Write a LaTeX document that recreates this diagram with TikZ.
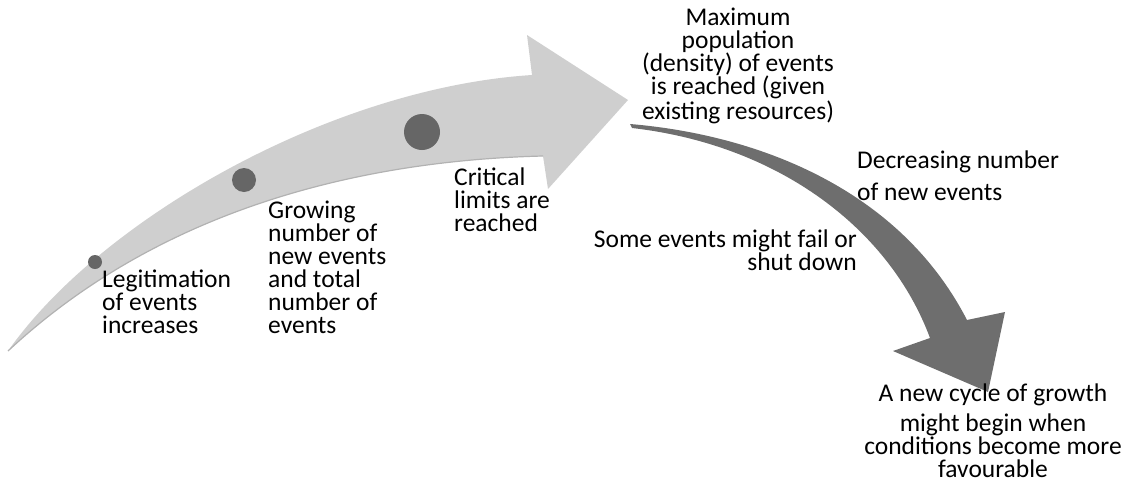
\documentclass[tikz,border=0pt]{standalone}
\usepackage{fontspec}
\setmainfont{Carlito}
\tikzset{
  lbl/.style={inner sep=0pt, font=\fontsize{25.5}{23}\selectfont},
  dotfill/.style={fill=black!60},
}
\begin{document}
\begin{tikzpicture}[x=1pt,y=-1pt]
\useasboundingbox (0,0) rectangle (1132,485);

% rising arrow
\fill[black!19] (8,351) .. controls (100,220) and (330,88) .. (532,75)
  -- (527,35) -- (628,100) -- (548,189) -- (543,156)
  .. controls (380,160) and (170,200) .. (8,351) -- cycle;
\draw[black!30, line width=1.2pt] (543,156) .. controls (380,160) and (170,200) .. (8,351);

\foreach \cx/\cy/\r in {95/262/7, 244/180/12, 422/132/18} {
        \fill[dotfill] (\cx,\cy) circle (\r pt);
 }

% falling arrow
\fill[black!57] (630,124) .. controls (760,135) and (900,190) .. (967,320)
  -- (1005,312) -- (988,392) -- (893,351) -- (930,338)
  .. controls (890,230) and (780,145) .. (632,128) -- cycle;

\node[lbl, anchor=base west, align=left] (legit) at (102,333) {Legitimation\\of events\\increases};
\node[lbl, anchor=base west, align=left] (growing) at (268,333) {Growing\\number of\\new events\\and total\\number of\\events};
\node[lbl, anchor=base west, align=left] (critical) at (454,231) {Critical\\limits are\\reached};
\node[lbl, anchor=base, align=center] (maxpop) at (738,119) {Maximum\\population\\(density) of events\\is reached (given\\existing resources)};
\node[lbl, anchor=base west, align=left] (decreasing) at (857,200) {Decreasing number\\[9pt]of new events};
\node[lbl, anchor=base east, align=right] (somefail) at (857,270) {Some events might fail or\\shut down};
\node[lbl, anchor=base, align=center] (newcycle) at (993,477) {A new cycle of growth\\[7pt]might begin when\\conditions become more\\favourable};
\end{tikzpicture}
\end{document}
